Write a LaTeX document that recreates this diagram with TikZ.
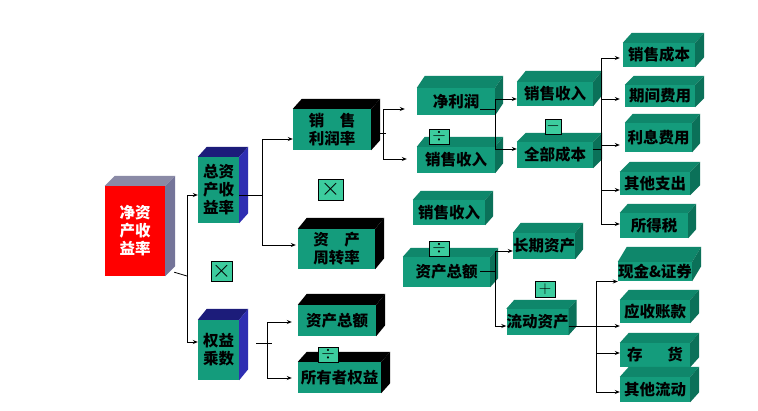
\documentclass[tikz,border=0pt]{standalone}
\usepackage{fontspec}
\newfontfamily\cjk{Noto Sans CJK SC}
\usetikzlibrary{arrows.meta}
\definecolor{gfront}{HTML}{149C7C}
\definecolor{gtop}{HTML}{0F876B}
\definecolor{gside}{HTML}{0B7159}
\definecolor{btop}{HTML}{1C1C7A}
\definecolor{bside}{HTML}{2E2EB2}
\definecolor{rtop}{HTML}{8A8AA6}
\definecolor{rside}{HTML}{747499}
\definecolor{opc}{HTML}{3CCC9E}
\tikzset{
  basebox/.style={inner sep=0pt, align=center, font=\cjk\bfseries\fontsize{15.5}{18}\selectfont},
  faceg/.style={basebox, fill=gfront, text=black},
  faceb/.style={basebox, fill=gfront, text=black},
  facek/.style={basebox, fill=gfront, text=black},
  facer/.style={basebox, fill=red, text=white},
  topg/.style={fill=gtop}, sideg/.style={fill=gside},
  topb/.style={fill=btop}, sideb/.style={fill=bside},
  topk/.style={fill=black}, sidek/.style={fill=black},
  topr/.style={fill=rtop}, sider/.style={fill=rside},
  opbox/.style={draw=black, line width=0.6pt, fill=opc, inner sep=0pt, font=\fontsize{16}{16}\selectfont},
  bigop/.style={font=\fontsize{24}{24}\selectfont},
  midop/.style={font=\fontsize{18}{18}\selectfont},
  ln/.style={draw=black, line width=0.8pt},
  arr/.style={ln, -{Stealth[length=5pt,width=4pt]}},
}
% #1 kind, #2 name, #3 x1, #4 y1, #5 x2, #6 y2, #7 text, #8 dx, #9 dy
\newcommand\cub[9]{%
  \node[face#1, minimum width={#5-#3}, minimum height={#6-#4}] (#2) at ({(#3+#5)/2},{(#4+#6)/2}) {#7};
  \fill[top#1] (#2.north west) -- ([shift={(#8pt,#9pt)}]#2.north west) -- ([shift={(#8pt,#9pt)}]#2.north east) -- (#2.north east) -- cycle;
  \fill[side#1] (#2.north east) -- ([shift={(#8pt,#9pt)}]#2.north east) -- ([shift={(#8pt,#9pt)}]#2.south east) -- (#2.south east) -- cycle;
}
\begin{document}
\begin{tikzpicture}[x=1pt,y=-1pt]
\useasboundingbox[fill=white] (0,0) rectangle (758,410);
% left part
\cub{r}{roe}{105}{186}{165}{276}{净资\\产收\\益率}{10}{10}
\cub{b}{zzc}{198}{157}{239}{223}{总资\\产收\\益率}{9}{10}
\cub{b}{qysc}{198}{320}{239}{380}{权益\\乘数}{9}{11}
\cub{k}{xslrl}{293}{109}{371}{150}{销　售\\利润率}{9}{10}
\cub{k}{zczzl}{298}{229}{375}{269}{资　产\\周转率}{9}{11}
\cub{k}{zcze1}{298}{305}{376}{336}{资产总额}{9}{11}
\cub{k}{syzqy}{298}{362}{381}{393}{所有者权益}{9}{10}
% middle
\cub{g}{jlr}{417}{88}{495}{115}{净利润}{8}{12}
\cub{g}{xssr1}{417}{147}{495}{173}{销售收入}{8}{10}
\cub{g}{xssr2}{517}{82}{593}{106}{销售收入}{9}{11}
\cub{g}{qbcb}{517}{142}{593}{168}{全部成本}{9}{9}
\cub{g}{xssr3}{413}{200}{485}{225}{销售收入}{8}{9}
\cub{g}{zcze2}{403}{257}{490}{287}{资产总额}{8}{9}
\cub{g}{cqzc}{513}{233}{575}{259}{长期资产}{8}{10}
\cub{g}{ldzc}{508}{309}{567}{335}{流动资产}{8}{9}
% right column
\cub{g}{xscb}{623}{43}{695}{67}{销售成本}{9}{10}
\cub{g}{qjfy}{625}{85}{695}{107}{期间费用}{9}{9}
\cub{g}{lxfy}{625}{123}{692}{152}{利息费用}{8}{9}
\cub{g}{qtzc}{620}{172}{690}{195}{其他支出}{10}{10}
\cub{g}{sds}{620}{213}{688}{238}{所得税}{8}{9}
\cub{g}{xj}{620}{262}{690}{281}{现金\&证券}{9}{15}
\cub{g}{yszk}{620}{300}{690}{323}{应收账款}{9}{10}
\cub{g}{ch}{620}{343}{690}{367}{存\hspace{1.6em}货}{9}{10}
\cub{g}{qtld}{620}{377}{690}{402}{其他流动}{9}{10}
% operator boxes
\node[opbox, bigop, minimum width=25pt, minimum height=21pt] (op1) at (330.5,189.5) {$\times$};
\node[opbox, bigop, minimum width=21pt, minimum height=20pt] (op2) at (221.5,271) {$\times$};
\node[opbox, minimum width=20pt, minimum height=15pt] (op3) at (328,354.5) {$\div$};
\node[opbox, minimum width=20pt, minimum height=15pt] (op4) at (439,136.5) {$\div$};
\node[opbox, minimum width=16pt, minimum height=15pt] (op5) at (553,126.5) {$-$};
\node[opbox, minimum width=20pt, minimum height=15pt] (op6) at (439,248.5) {$\div$};
\node[opbox, midop, minimum width=20pt, minimum height=16pt] (op7) at (545,289) {$+$};
% junctions
\coordinate (j1) at (187,276);
\coordinate (j2) at (262,195);
\coordinate (j3) at (383,133);
\coordinate (j4) at (495,109);
\coordinate (j5) at (601,149);
\coordinate (j6) at (495,271);
\coordinate (j7) at (596,326);
\coordinate (j8) at (267,343);
% connectors
\draw[ln] ([shift={(9pt,4pt)}]roe.south east) -- (j1);
\draw[arr] (j1) |- ([yshift=-5pt]zzc.west);
\draw[arr] (j1) |- ([yshift=8pt]qysc.west);
\draw[ln] ([yshift=-5pt]zzc.east) -- (j2);
\draw[arr] (j2) |- ([shift={(0pt,-9.5pt)}]xslrl.west);
\draw[arr] (j2) |- ([shift={(-2pt,4pt)}]zczzl.west);
\draw[ln] ([yshift=-3.5pt]xslrl.east) -- ([xshift=3pt]j3);
\draw[arr] (j3) |- ([shift={(-12pt,-7.5pt)}]jlr.west);
\draw[arr] (j3) |- ([shift={(-10pt,1pt)}]xssr1.west);
\draw[ln] ([shift={(-15pt,-7.5pt)}]jlr.east) -- (j4);
\draw[arr] (j4) |- ([yshift=-5pt]xssr2.west);
\draw[arr] (j4) |- ([yshift=6pt]qbcb.west);
\draw[ln] ([yshift=6pt]qbcb.east) -- (j5);
\draw[arr] (j5) |- ([shift={(-3pt,-3pt)}]xscb.west);
\draw[arr] (j5) |- ([shift={(-5pt,-3pt)}]qjfy.west);
\draw[arr] (j5) |- ([shift={(-5pt,-7.5pt)}]lxfy.west);
\draw[arr] (j5) |- ([shift={(0pt,-6.5pt)}]qtzc.west);
\draw[arr] (j5) |- ([shift={(0pt,1.5pt)}]sds.west);
\draw[ln] ([shift={(-10pt,1pt)}]zcze2.east) -- (j6);
\draw[arr] (j6) |- ([yshift=-5pt]cqzc.west);
\draw[arr] (j6) |- ([yshift=-4pt]ldzc.west);
\draw[ln] ([yshift=-4pt]ldzc.east) -- (j7);
\draw[arr] (j7) |- ([yshift=-10pt]xj.west);
\draw[arr] (j7) -- ([yshift=-14.5pt]yszk.west);
\draw[arr] (j7) |- ([yshift=2pt]ch.west);
\draw[arr] (j7) |- ([yshift=-2.5pt]qtld.west);
\draw[ln] ([shift={(17pt,7pt)}]qysc.east) -- ([xshift=5pt]j8);
\draw[arr] (j8) |- ([shift={(-6pt,-1.5pt)}]zcze1.west);
\draw[arr] (j8) |- ([shift={(-6pt,-0.5pt)}]syzqy.west);
\end{tikzpicture}
\end{document}
